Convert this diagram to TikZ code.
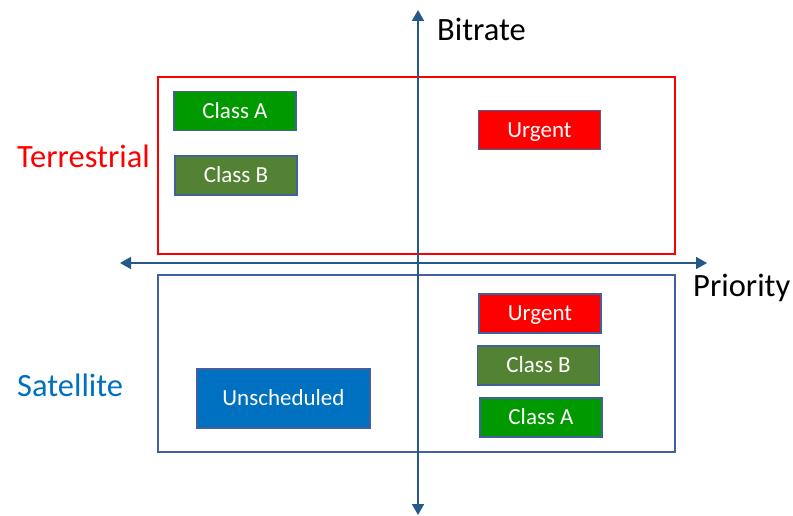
\documentclass[tikz,border=0pt]{standalone}
\usepackage{fontspec}
\setmainfont{Carlito}
\usetikzlibrary{arrows.meta}
\definecolor{axisblue}{RGB}{38,88,138}
\definecolor{frameblue}{RGB}{66,96,156}
\definecolor{clsA}{RGB}{0,153,0}
\definecolor{clsB}{RGB}{84,130,53}
\definecolor{urg}{RGB}{255,0,0}
\definecolor{unsch}{RGB}{0,112,192}
\definecolor{satblue}{RGB}{0,112,192}
\tikzset{
  tag/.style={draw=frameblue, line width=1.8pt, text=white, inner sep=0pt,
    font=\fontsize{23}{27}\selectfont, text height=14.8pt, text depth=0pt,
    minimum width=122pt, minimum height=39pt},
  axislab/.style={font=\fontsize{32.5}{38}\selectfont, inner sep=0pt,
    text height=20.9pt, text depth=0pt},
  axisline/.style={draw=axisblue, line width=1.8pt,
    {Triangle[width=12pt,length=11pt]}-{Triangle[width=12pt,length=11pt]}}
}
\begin{document}
\begin{tikzpicture}[x=1pt,y=-1pt]
\useasboundingbox (0,0) rectangle (793,516);
% region frames
\draw[red, line width=1.6pt] (158,77) rectangle (675,254);
\draw[frameblue, line width=1.6pt] (158,275) rectangle (675,452);
% terrestrial classes
\node[tag, fill=clsA] (tA) at (235,111) {Class A};
\node[tag, fill=clsB] (tB) at (236,175.5) {Class B};
\node[tag, fill=urg] (tU) at (539.5,130) {Urgent};
% satellite classes
\node[tag, fill=urg] (sU) at (540,313.5) {Urgent};
\node[tag, fill=clsB] (sB) at (538.5,365.5) {Class B};
\node[tag, fill=clsA] (sA) at (541,417.5) {Class A};
\node[tag, fill=unsch, minimum width=173pt, minimum height=59pt] (un) at (283.5,398.5) {Unscheduled};
% axes
\coordinate (vtop) at (418,10);
\coordinate (vbot) at (418,515);
\coordinate (hleft) at (120,263);
\coordinate (hright) at (707,263);
\draw[axisline] (vbot) -- (vtop);
\draw[axisline] (hleft) -- (hright);
% labels
\node[axislab, anchor=west] (bit) at (437,30) {Bitrate};
\node[axislab, anchor=west] (pri) at (693,286) {Priority};
\node[axislab, anchor=west, text=red] (ter) at (17,157) {Terrestrial};
\node[axislab, anchor=west, text=satblue] (sat) at (17,386) {Satellite};
\end{tikzpicture}
\end{document}
